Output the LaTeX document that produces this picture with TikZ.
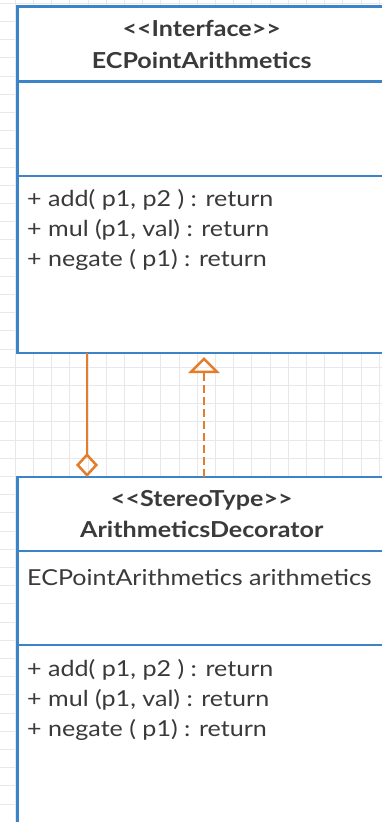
\documentclass[tikz,border=0pt]{standalone}
\usepackage{fontspec}
\setmainfont{Lato}[Ligatures=TeXOff]
\usetikzlibrary{arrows.meta}
\definecolor{umlblue}{RGB}{60,132,200}
\definecolor{umlorange}{RGB}{228,125,42}
\definecolor{umltext}{RGB}{58,58,58}
\definecolor{gridline}{RGB}{232,232,236}
% wide text setting used for all labels
\newcommand{\widetext}[1]{\scalebox{1.14}[1]{#1}}
\begin{document}
\begin{tikzpicture}[x=1pt,y=-1pt,
  classbox/.style={draw=umlblue, line width=2.8pt, fill=white, rectangle,
    inner sep=0pt, outer sep=0pt, anchor=north west},
  sep/.style={draw=umlblue, line width=2.8pt},
  title/.style={font=\fontsize{22}{26}\selectfont\bfseries, text=umltext,
    anchor=base, inner sep=0pt},
  member/.style={font=\fontsize{22}{26}\selectfont, text=umltext,
    anchor=base west, inner sep=0pt},
  aggr/.style={draw=umlorange, line width=2.5pt,
    -{Diamond[open, length=24pt, width=22pt]}},
  realize/.style={draw=umlorange, line width=2.5pt, dash pattern=on 8pt off 4pt,
    shorten >=4pt, -{Triangle[open, length=16pt, width=31pt]}}
]
\useasboundingbox (0,0) rectangle (382,822);
\fill[white] (0,0) rectangle (382,822);

% background grid
\begin{scope}
  \clip (0,0) rectangle (382,822);
  \foreach \i in {0,...,21}
    \draw[gridline, line width=0.8pt] ({15.1+\i*18.2},0) -- ({15.1+\i*18.2},822);
  \foreach \j in {0,...,45}
    \draw[gridline, line width=0.8pt] (0,{3.1+\j*18.2}) -- (382,{3.1+\j*18.2});
\end{scope}

% interface class
\node[classbox, minimum width=368.5pt, minimum height=346.5pt] (iface) at (17.5,6.5) {};
\draw[sep] (17.5,81.5) -- (386,81.5);
\draw[sep] (17.5,176) -- (386,176);
\node[title] (ifst) at (201.75,36.7) {\widetext{<<Interface>>}};
\node[title] (ifname) at (201.75,68) {\widetext{ECPointArithmetics}};
\node[member] (ifm1) at (27,206) {\widetext{+ add( p1, p2 ) : return}};
\node[member] (ifm2) at (27,236) {\widetext{+ mul (p1, val) : return}};
\node[member] (ifm3) at (27,266) {\widetext{+ negate ( p1) : return}};

% decorator class
\node[classbox, minimum width=368.5pt, minimum height=360pt] (deco) at (17.5,477) {};
\draw[sep] (17.5,551) -- (386,551);
\draw[sep] (17.5,645) -- (386,645);
\node[title] (dest) at (201.75,506.7) {\widetext{<<StereoType>>}};
\node[title] (dename) at (201.75,537) {\widetext{ArithmeticsDecorator}};
\node[member] (dea1) at (27,585) {\widetext{ECPointArithmetics arithmetics}};
\node[member] (dem1) at (27,676) {\widetext{+ add( p1, p2 ) : return}};
\node[member] (dem2) at (27,706) {\widetext{+ mul (p1, val) : return}};
\node[member] (dem3) at (27,736) {\widetext{+ negate ( p1) : return}};

% relations
\coordinate (ax) at (87,0);
\coordinate (rx) at (204,0);
\draw[aggr] (iface.south -| ax) -- (deco.north -| ax);
\draw[realize] (deco.north -| rx) -- (iface.south -| rx);
\end{tikzpicture}
\end{document}
